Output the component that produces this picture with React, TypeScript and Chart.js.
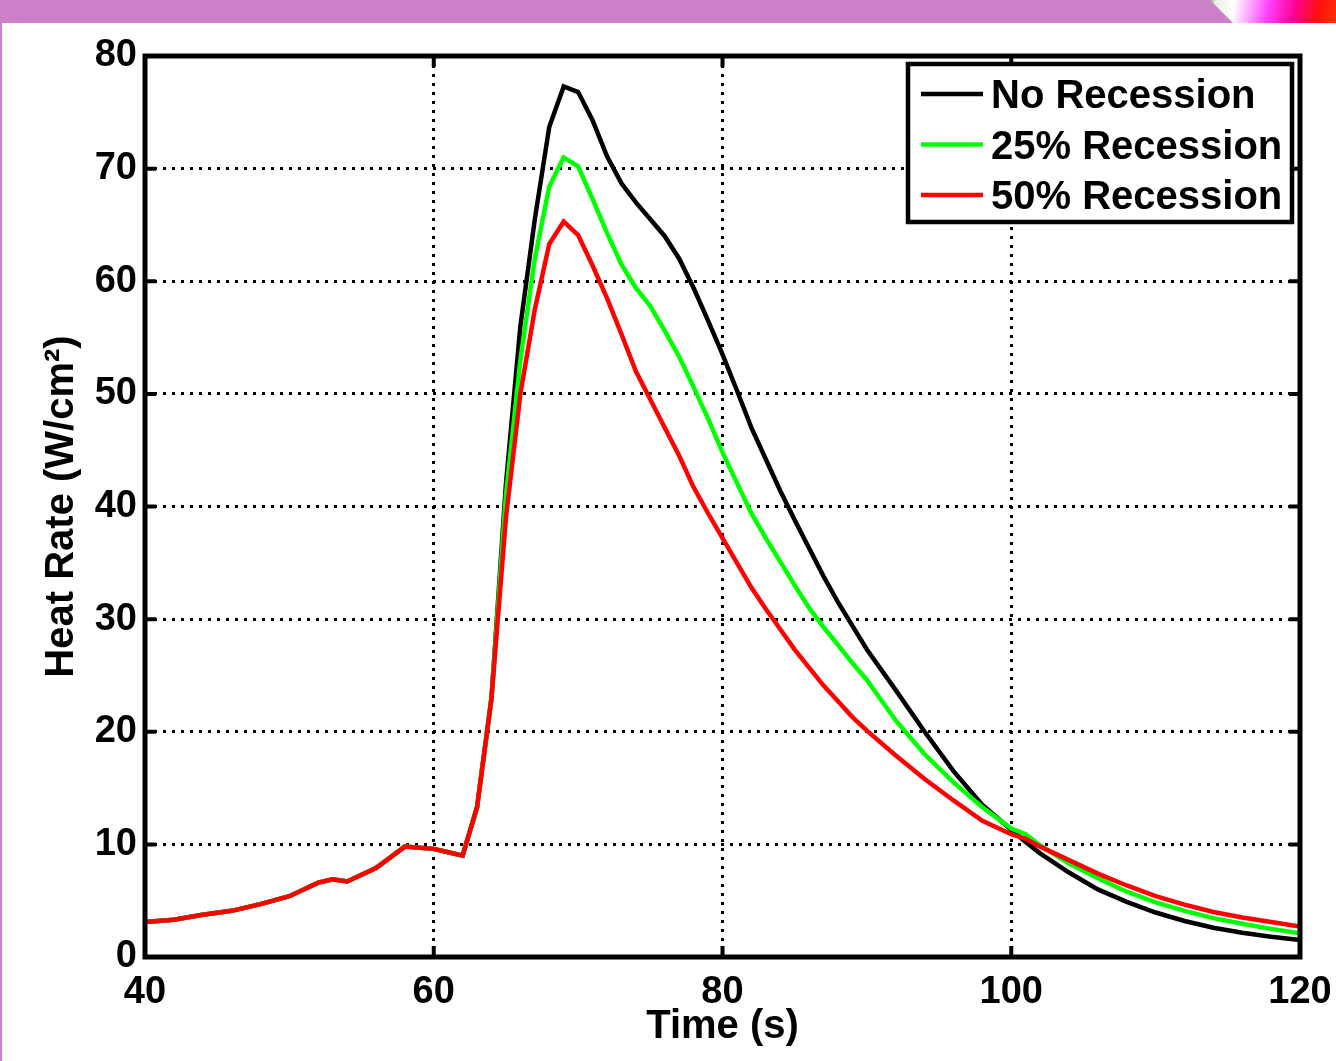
import React, { useEffect, useRef } from "react";
import { Chart, registerables } from "chart.js";

Chart.register(...registerables);

// Time (s)
const times = [
  40, 42, 44, 46, 48, 50, 52, 53, 54, 56, 58, 60, 61, 62, 63, 64,
  65, 66, 67, 68, 69, 70, 71, 72, 73, 74, 75, 76, 77, 78, 79, 80,
  81, 82, 83, 84, 85, 86, 87, 88, 89, 90, 92, 94, 96, 98, 100, 101,
  102, 104, 106, 108, 110, 112, 114, 116, 118, 120,
];

// Shared early part (40 s .. 64 s)
const commonStart = [3.1, 3.3, 3.75, 4.1, 4.7, 5.4, 6.6, 6.9, 6.7, 7.9, 9.8, 9.6, 9.3, 9.0, 13.3, 23.0];

const noRecessionTail = [
  42, 56, 65.5, 73.7, 77.3, 76.8, 74.3, 71.1, 68.7, 67.0, 65.5, 64.0, 62.0, 59.4, 56.5,
  53.5, 50.3, 47.0, 44.2, 41.4, 38.8, 36.3, 33.8, 31.5, 29.4, 27.3, 23.7, 20.0, 16.5,
  13.5, 11.3, 10.2, 9.2, 7.5, 6.0, 4.9, 3.95, 3.2, 2.6, 2.15, 1.8, 1.5,
];
const recession25Tail = [
  41, 53, 62, 68.4, 71.0, 70.2, 67.3, 64.3, 61.5, 59.4, 57.8, 55.6, 53.3, 50.6, 47.8,
  44.8, 42.1, 39.4, 37.2, 35.1, 33.0, 31.0, 29.3, 27.7, 26.1, 24.6, 21.0, 18.0, 15.5,
  13.3, 11.4, 10.9, 9.9, 8.3, 7.0, 5.8, 4.85, 4.1, 3.45, 2.95, 2.5, 2.1,
];
const recession50Tail = [
  39, 50, 57.5, 63.3, 65.3, 64.1, 61.4, 58.5, 55.3, 52.0, 49.5, 47.0, 44.5, 41.7, 39.4,
  37.2, 35.0, 32.8, 30.9, 29.1, 27.3, 25.7, 24.1, 22.7, 21.3, 20.1, 17.9, 15.8, 13.9,
  12.1, 10.9, 10.5, 9.8, 8.6, 7.4, 6.35, 5.4, 4.65, 4.0, 3.5, 3.1, 2.7,
];

const noRecession = [...commonStart, ...noRecessionTail];
const recession25 = [...commonStart, ...recession25Tail];
const recession50 = [...commonStart, ...recession50Tail];

const seriesLabels = ["No Recession", "25% Recession", "50% Recession"];
const seriesColors = ["#000000", "#00ff00", "#ff0000"];
const xTickValues = [40, 60, 80, 100, 120];
const yTickValues = [0, 10, 20, 30, 40, 50, 60, 70, 80];

const FONT = "'Liberation Sans', Arial, sans-serif";

const framePlugin = {
  id: "framePlugin",
  afterDraw(chart: any) {
    const { ctx, chartArea } = chart;
    const { left, right, top, bottom } = chartArea;
    const xs = chart.scales.x;
    const ys = chart.scales.y;
    ctx.save();
    ctx.strokeStyle = "#000";
    ctx.lineCap = "butt";
    // inward ticks
    ctx.lineWidth = 4;
    const tl = 11;
    ctx.beginPath();
    xTickValues.forEach((v) => {
      const px = xs.getPixelForValue(v);
      ctx.moveTo(px, bottom);
      ctx.lineTo(px, bottom - tl);
      ctx.moveTo(px, top);
      ctx.lineTo(px, top + tl);
    });
    yTickValues.forEach((v) => {
      const py = ys.getPixelForValue(v);
      ctx.moveTo(left, py);
      ctx.lineTo(left + tl, py);
      ctx.moveTo(right, py);
      ctx.lineTo(right - tl, py);
    });
    ctx.stroke();
    // frame
    ctx.lineWidth = 5;
    ctx.lineJoin = "miter";
    ctx.strokeRect(left, top, right - left, bottom - top);

    // legend box
    const bw = 384;
    const bh = 158;
    const bx = right - 8 - bw;
    const by = top + 8;
    ctx.fillStyle = "#fff";
    ctx.fillRect(bx, by, bw, bh);
    ctx.lineWidth = 4.5;
    ctx.strokeRect(bx, by, bw, bh);
    ctx.font = `bold 40px ${FONT}`;
    ctx.textBaseline = "alphabetic";
    ctx.textAlign = "left";
    seriesLabels.forEach((label, i) => {
      const ry = by + 30 + i * 50.5;
      ctx.strokeStyle = seriesColors[i];
      ctx.lineWidth = 4.5;
      ctx.beginPath();
      ctx.moveTo(bx + 13, ry);
      ctx.lineTo(bx + 75, ry);
      ctx.stroke();
      ctx.fillStyle = "#000";
      ctx.fillText(label, bx + 83, ry + 14);
    });
    ctx.restore();
  },
};

export default function App() {
  const canvasRef = useRef<HTMLCanvasElement | null>(null);

  useEffect(() => {
    const canvas = canvasRef.current;
    if (!canvas) return;
    const mk = (vals: number[]) => times.map((t, i) => ({ x: t, y: vals[i] }));
    const chart = new Chart(canvas, {
      type: "line",
      data: {
        datasets: [
          {
            label: seriesLabels[0],
            data: mk(noRecession),
            borderColor: seriesColors[0],
            borderWidth: 4.5,
            pointRadius: 0,
            tension: 0,
            order: 2,
          },
          {
            label: seriesLabels[1],
            data: mk(recession25),
            borderColor: seriesColors[1],
            borderWidth: 4.5,
            pointRadius: 0,
            tension: 0,
            order: 1,
          },
          {
            label: seriesLabels[2],
            data: mk(recession50),
            borderColor: seriesColors[2],
            borderWidth: 4.5,
            pointRadius: 0,
            tension: 0,
            order: 0,
          },
        ],
      },
      options: {
        animation: false,
        responsive: false,
        maintainAspectRatio: false,
        layout: { padding: { top: 56, right: 36, left: 0, bottom: 0 } },
        plugins: {
          legend: { display: false },
          tooltip: { enabled: false },
        },
        scales: {
          x: {
            type: "linear",
            min: 40,
            max: 120,
            afterFit: (s: any) => {
              s.height = 104;
              s.paddingLeft = 0;
              s.paddingRight = 0;
            },
            afterBuildTicks: (s: any) => {
              s.ticks = xTickValues.map((v) => ({ value: v }));
            },
            ticks: {
              color: "#000",
              font: { family: FONT, size: 38, weight: "bold" },
              padding: 13,
              maxRotation: 0,
              autoSkip: false,
            },
            grid: {
              color: "#000",
              lineWidth: 3,
              drawTicks: false,
            },
            border: { display: false, dash: [3, 6] },
            title: {
              display: true,
              text: "Time (s)",
              color: "#000",
              font: { family: FONT, size: 40, weight: "bold", lineHeight: 1 },
              padding: { top: 0, bottom: 14 },
            },
          },
          y: {
            type: "linear",
            min: 0,
            max: 80,
            afterFit: (s: any) => {
              s.width = 145;
              s.paddingTop = 0;
              s.paddingBottom = 0;
            },
            afterBuildTicks: (s: any) => {
              s.ticks = yTickValues.map((v) => ({ value: v }));
            },
            ticks: {
              color: "#000",
              font: { family: FONT, size: 38, weight: "bold" },
              padding: 8,
              autoSkip: false,
            },
            grid: {
              color: "#000",
              lineWidth: 3,
              drawTicks: false,
            },
            border: { display: false, dash: [3, 6] },
            title: {
              display: true,
              text: "Heat Rate (W/cm²)",
              color: "#000",
              font: { family: FONT, size: 40, weight: "bold", lineHeight: 1 },
              padding: { top: 42, bottom: 0 },
            },
          },
        },
      },
      plugins: [framePlugin],
    });
    return () => chart.destroy();
  }, []);

  return (
    <div
      style={{
        position: "absolute",
        left: 0,
        top: 0,
        width: 1336,
        height: 1061,
        background: "rgb(204,128,200)",
        overflow: "hidden",
      }}
    >
      <div
        style={{
          position: "absolute",
          left: 2,
          top: 23,
          width: 1334,
          height: 1038,
          background: "#fff",
        }}
      />
      <div
        style={{
          position: "absolute",
          left: 1205,
          top: 0,
          width: 131,
          height: 23,
          clipPath: "polygon(5px 0, 131px 0, 131px 23px, 28px 23px)",
          background:
            "linear-gradient(100deg, #4a5a3a 0%, #e8f0e0 8%, #ffffff 22%, #ff40ff 48%, #ff0090 68%, #ff1010 85%, #ff3000 100%)",
        }}
      />
      <canvas
        ref={canvasRef}
        width={1336}
        height={1061}
        style={{ position: "absolute", left: 0, top: 0, width: 1336, height: 1061 }}
      />
    </div>
  );
}
